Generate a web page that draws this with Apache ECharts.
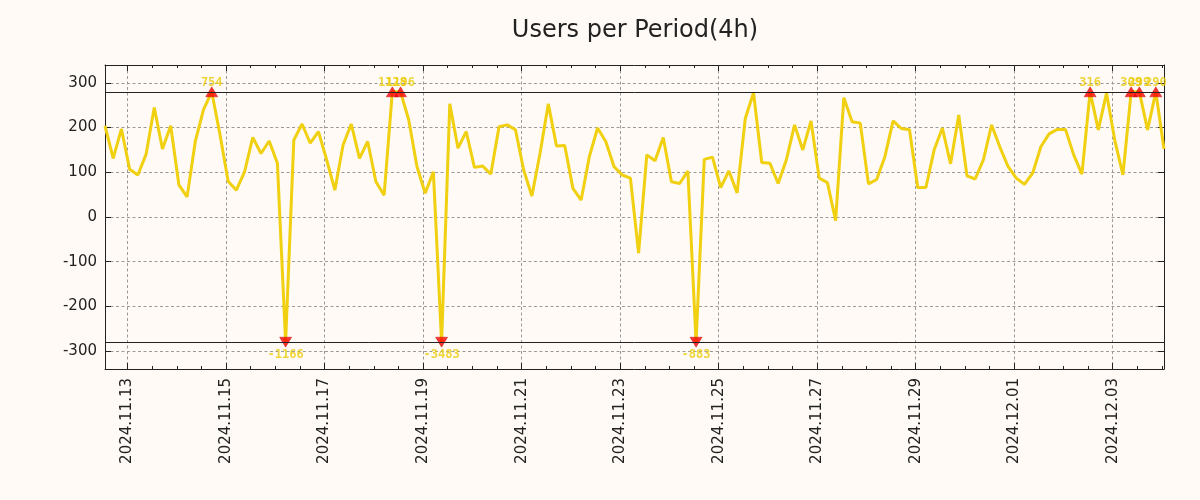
<!DOCTYPE html>
<html><head><meta charset="utf-8">
<script src="https://cdn.jsdelivr.net/npm/echarts@6/dist/echarts.min.js"></script>
<style>html,body{margin:0;padding:0;background:#fffaf5}#c{width:1200px;height:500px}</style>
</head><body><div id="c"></div>
<script>
// ---- data ----
const chartTitle = 'Users per Period(4h)';
const startTime = '2024-11-12T13:00:00Z';   // first 4h period
const stepHours = 4;
const values = [
  204, 131, 197, 107, 94, 140, 245, 152, 204, 72,
  45, 169, 240, 754, 185, 80, 60, 101, 178, 142,
  170, 120, -1166, 172, 208, 165, 191, 128, 60, 161,
  208, 131, 169, 79, 49, 1128, 1196, 217, 113, 53,
  101, -3483, 253, 154, 191, 111, 114, 96, 202, 206,
  195, 105, 47, 143, 253, 159, 160, 64, 38, 135,
  199, 169, 113, 94, 87, -81, 139, 126, 178, 79,
  75, 103, -883, 129, 134, 66, 103, 54, 221, 278,
  122, 120, 75, 128, 206, 150, 215, 87, 77, -8,
  267, 213, 210, 74, 84, 135, 215, 198, 195, 66,
  66, 150, 199, 119, 228, 92, 85, 128, 206, 157,
  113, 87, 73, 98, 157, 186, 196, 196, 139, 96,
  316, 195, 277, 172, 94, 309, 299, 195, 290, 152
];
const clipLimit = 280;
const yMin = -340, yMax = 340;
const yTickValues = [-300, -200, -100, 0, 100, 200, 300];
const dateTickLabels = ['2024.11.13', '2024.11.15', '2024.11.17', '2024.11.19', '2024.11.21',
  '2024.11.23', '2024.11.25', '2024.11.27', '2024.11.29', '2024.12.01', '2024.12.03'];
const minorTickHours = 12;

// ---- derived ----
const origin = Date.parse('2024-11-13T00:00:00Z');
const H = 3600000;
const startH = (Date.parse(startTime) - origin) / H;
const xs = values.map((v, i) => startH + i * stepHours);
const xMin = xs[0], xMax = xs[xs.length - 1];
const labelByHour = {};
const xMajor = dateTickLabels.map(d => {
  const h = (Date.parse(d.replace(/\./g, '-') + 'T00:00:00Z') - origin) / H;
  labelByHour[h] = d;
  return h;
});
const xMinor = [];
for (let h = Math.ceil(xMin / minorTickHours) * minorTickHours; h <= xMax; h += minorTickHours) {
  if (!xMajor.includes(h)) xMinor.push(h);
}
const clip = v => Math.max(-clipLimit, Math.min(clipLimit, v));
const lineData = values.map((v, i) => [xs[i], clip(v)]);
const highData = [], lowData = [];
values.forEach((v, i) => {
  if (v > clipLimit) highData.push([xs[i], clip(v), v]);
  else if (v < -clipLimit) lowData.push([xs[i], clip(v), v]);
});

const ink = '#222222';
const font = 'DejaVu Sans';
const lineColor = '#f0d010';
const gridDash = { color: '#9a9a9a', width: 1, type: [3, 2.5] };

function xAxisDef(pos, major, withLabels) {
  return {
    type: 'value', min: xMin, max: xMax, position: pos, gridIndex: 0,
    axisLine: { show: major, onZero: false, lineStyle: { color: ink, width: 1 } },
    axisTick: { show: true, inside: true, length: major ? 6 : 3,
      customValues: major ? xMajor : xMinor, lineStyle: { color: ink, width: 1 } },
    axisLabel: withLabels ? {
      show: true, customValues: xMajor, rotate: 90, margin: 9,
      fontSize: 15, fontFamily: font, color: ink,
      formatter: v => labelByHour[v] || ''
    } : { show: false },
    splitLine: withLabels ? { show: true, lineStyle: gridDash } : { show: false }
  };
}
function yAxisDef(pos, withLabels) {
  return {
    type: 'value', min: yMin, max: yMax, position: pos, gridIndex: 0,
    axisLine: { show: true, onZero: false, lineStyle: { color: ink, width: 1 } },
    axisTick: { show: true, inside: true, length: 6, customValues: yTickValues,
      lineStyle: { color: ink, width: 1 } },
    axisLabel: withLabels ? { show: true, customValues: yTickValues, margin: 8,
      fontSize: 15, fontFamily: font, color: ink } : { show: false },
    splitLine: withLabels ? { show: true, lineStyle: gridDash } : { show: false }
  };
}

const markerLabel = {
  show: true,
  formatter: p => String(p.data[2]),
  fontFamily: 'DejaVu Sans Mono', fontWeight: 'bold', fontSize: 12, color: '#eccc0a'
};

const chart = echarts.init(document.getElementById('c'), null, { renderer: 'canvas' });
chart.setOption({
  backgroundColor: '#fffaf5',
  animation: false,
  title: {
    text: chartTitle, left: 630, top: 14, textAlign: 'center',
    textStyle: { fontFamily: font, fontSize: 24, fontWeight: 'normal', color: ink }
  },
  grid: { left: 105, right: 36, top: 65, bottom: 131 },
  xAxis: [
    xAxisDef('bottom', true, true),
    xAxisDef('bottom', false, false),
    xAxisDef('top', true, false),
    xAxisDef('top', false, false)
  ],
  yAxis: [yAxisDef('left', true), yAxisDef('right', false)],
  series: [
    {
      type: 'line', xAxisIndex: 0, yAxisIndex: 0, data: lineData,
      showSymbol: false, symbol: 'none',
      lineStyle: { color: lineColor, width: 3 }, itemStyle: { color: lineColor },
      markLine: {
        silent: true, symbol: ['none', 'none'], label: { show: false },
        lineStyle: { color: ink, width: 1, type: 'solid' },
        data: [{ yAxis: clipLimit }, { yAxis: -clipLimit }]
      },
      z: 2
    },
    {
      type: 'scatter', xAxisIndex: 0, yAxisIndex: 0, data: highData,
      symbol: 'triangle', symbolSize: [12, 10],
      itemStyle: { color: '#ff0000', borderColor: '#b00000', borderWidth: 0.5 },
      label: Object.assign({ position: 'top', distance: -2 }, markerLabel),
      z: 4
    },
    {
      type: 'scatter', xAxisIndex: 0, yAxisIndex: 0, data: lowData,
      symbol: 'triangle', symbolSize: [12, 10], symbolRotate: 180,
      itemStyle: { color: '#ff0000', borderColor: '#b00000', borderWidth: 0.5 },
      label: Object.assign({ position: 'bottom', distance: 1 }, markerLabel),
      z: 4
    }
  ]
});
</script></body></html>
